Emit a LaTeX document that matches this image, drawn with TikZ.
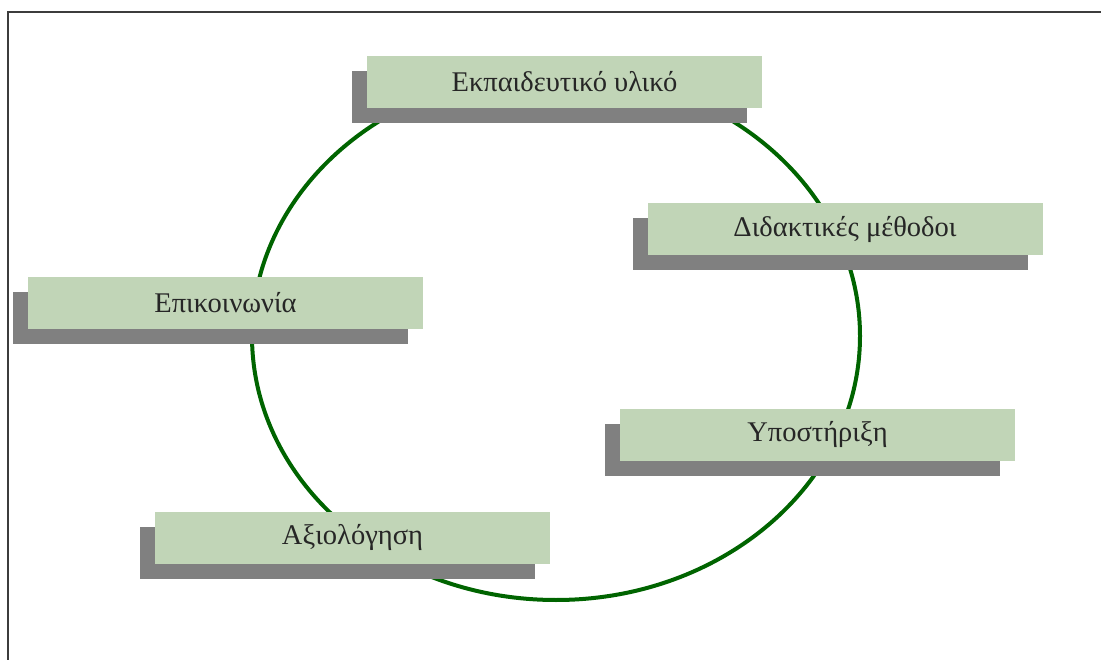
\documentclass[tikz,border=0pt]{standalone}
\usepackage{fontspec}
\setmainfont{Liberation Serif}
\usetikzlibrary{shadows}

\definecolor{TopicColor}{RGB}{193,213,183}
\definecolor{ShadowColor}{RGB}{128,128,128}
\definecolor{CycleColor}{RGB}{0,100,0}
\definecolor{FrameColor}{RGB}{60,60,60}

\begin{document}
\begin{tikzpicture}[x=1pt, y=-1pt,
		topic/.style={fill=TopicColor, minimum width=395pt, minimum height=52pt, inner sep=0pt,
			font=\fontsize{28.5}{34}\selectfont, text=black!85,
			drop shadow={shadow xshift=-15pt, shadow yshift=-15pt, fill=ShadowColor, opacity=1}},
		cycle/.style={draw=CycleColor, line width=4pt}
	]
	\useasboundingbox (0, 0) rectangle (1101, 660);

	% Frame
	\draw[FrameColor, line width=2pt] (8, 660) -- (8, 12) -- (1101, 12);

	% Cycle
	\draw[cycle] (556, 336) ellipse [x radius=304, y radius=264];

	% Topics
	\node[topic] (material) at (564.5, 82) {Εκπαιδευτικό υλικό};
	\node[topic] (methods) at (845, 229.5) {Διδακτικές μέθοδοι};
	\node[topic] (support) at (817.5, 434.5) {Υποστήριξη};
	\node[topic] (communication) at (225.5, 303) {Επικοινωνία};
	\node[topic] (assessment) at (352.5, 537.5) {Αξιολόγηση};

\end{tikzpicture}
\end{document}
